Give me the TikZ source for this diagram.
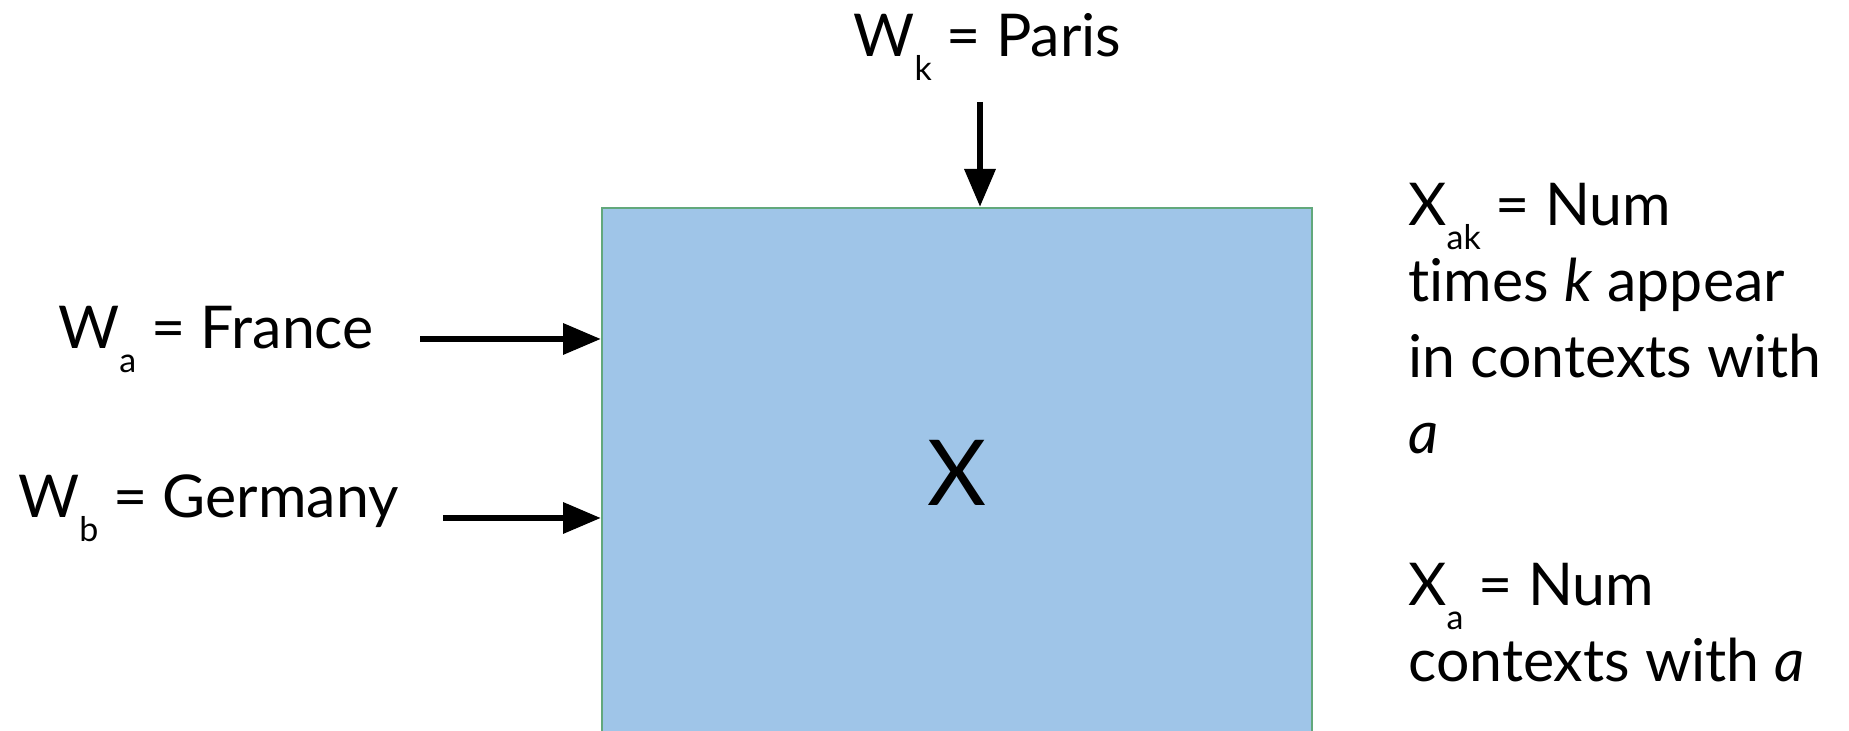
\documentclass[tikz,border=0pt]{standalone}
\usepackage{fontspec}
\setmainfont{Lato}[Ligatures=NoCommon]
\usetikzlibrary{arrows.meta}
\definecolor{boxfill}{RGB}{159,197,232}
\definecolor{boxline}{RGB}{98,168,124}
\newcommand{\lsub}[1]{\raisebox{-12pt}{\fontsize{17}{17}\selectfont #1}}

\begin{document}
\begin{tikzpicture}[scale=0.5,
  lbl/.style={inner sep=0pt,anchor=base west,font=\fontsize{29.5}{38}\selectfont},
  matbox/.style={draw=boxline,line width=1pt,fill=boxfill,minimum width=355pt,minimum height=264.5pt,font=\fontsize{45.5}{50}\selectfont},
  feed/.style={-{Triangle[length=19pt,width=15pt]},line width=3.3pt}]
\useasboundingbox (0pt,0pt) rectangle (1849pt,-731pt);
\clip (0pt,0pt) rectangle (1849pt,-731pt);

% the matrix
\node[matbox] (box) at (957pt,-472.5pt) {X};

% words
\node[lbl] (wk) at (853pt,-57pt) {W\lsub{k} = Paris};
\node[lbl] (wa) at (58pt,-349pt) {W\lsub{a} = France};
\node[lbl] (wb) at (18pt,-518pt) {W\lsub{b} = Germany};

\coordinate (kin) at (980pt,-102pt);
\coordinate (ain) at (420pt,-339pt);
\coordinate (bin) at (443pt,-518pt);
\draw[feed] (kin) -- (kin |- box.north);
\draw[feed] (ain) -- (ain -| box.west);
\draw[feed] (bin) -- (bin -| box.west);

% counts
\node[lbl,anchor=north west,align=left] (def) at (1408pt,-183pt) {X\lsub{ak} = Num\\ times \textit{k} appear\\ in contexts with\\ \textit{a}\\[38pt] X\lsub{a} = Num\\ contexts with \textit{a}};
\end{tikzpicture}
\end{document}
